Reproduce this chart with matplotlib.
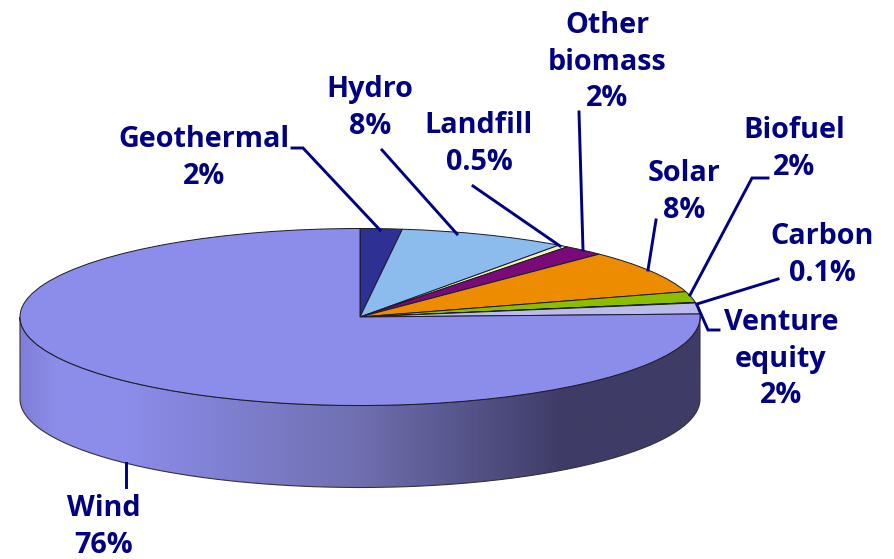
import numpy as np
import matplotlib
matplotlib.use("Agg")
import matplotlib.pyplot as plt
from matplotlib.colors import LinearSegmentedColormap
from matplotlib.patches import PathPatch
from matplotlib.path import Path

labels = ["Geothermal\n2%", "Hydro\n8%", "Landfill\n0.5%", "Other\nbiomass\n2%", "Solar\n8%",
          "Biofuel\n2%", "Carbon\n0.1%", "Venture\nequity\n2%", "Wind\n76%"]
values = [2, 8, 0.5, 2, 8, 2, 0.1, 2, 76]
colors = ["#2e3192", "#8cbbee", "#f5f0b8", "#7a0a78", "#ee8c00", "#8cbe00", "#8a8a9a", "#bcbcec", "#8c8cea"]

# label centres in pixels
label_x = [204, 370, 479, 607, 684, 794, 822, 781, 104]
label_y = [158, 108, 144, 62, 192, 149, 255, 359, 527]

# leader lines in pixels
leaders = [
    [(292, 148), (303, 148), (380, 230)],
    [(382, 150), (457, 234)],
    [(473, 186), (560, 246)],
    [(579, 112), (583, 250)],
    [(656, 220), (648, 270)],
    [(768, 178), (752, 178), (690, 295)],
    [(778, 279), (697, 304)],
    [(697, 305), (708, 330), (719, 330)],
    [(126, 487), (126, 463)],
]

W, H = 895, 559
cx, cy = 360, 317
rx, ry = 340, 88.5
depth = 82
navy = "#000080"

fig = plt.figure(figsize=(W / 100, H / 100), dpi=100)

# pixel axes for the side wall
ax = fig.add_axes([0, 0, 1, 1])
ax.set_xlim(0, W)
ax.set_ylim(H, 0)
ax.axis("off")

# side wall with left to right shading
t = np.linspace(np.pi, 0, 200)
ex = cx + rx * np.cos(t)
ey = cy + ry * np.sin(t)
wall = np.vstack([np.column_stack([ex, ey]), np.column_stack([ex[::-1], ey[::-1] + depth])])
wall_patch = PathPatch(Path(np.vstack([wall, wall[:1]])), fc="none", ec="#333333", lw=0.8, zorder=2)
ax.add_patch(wall_patch)
shade = LinearSegmentedColormap.from_list("wall", [
    (0.0, "#7f7fd8"), (0.05, "#8c8cea"), (0.16, "#8c8cea"), (0.5, "#6f6fb0"), (0.8, "#3e3c66"), (1.0, "#3e3c66")])
grad = ax.imshow(np.linspace(0, 1, 400)[None, :], cmap=shade, aspect="auto",
                 extent=[cx - rx, cx + rx, cy + ry + depth, cy], zorder=1)
grad.set_clip_path(wall_patch)
ax.set_xlim(0, W)
ax.set_ylim(H, 0)

# top of the pie, unit circle squashed into the ellipse
ax_top = fig.add_axes([0, 0, 1, 1], zorder=2)
ax_top.patch.set_alpha(0)
ax_top.pie(values, colors=colors, startangle=90, counterclock=False, radius=1,
           wedgeprops={"edgecolor": "#1a1a2a", "linewidth": 0.7})
ax_top.set_aspect("auto")
ax_top.set_xlim(-cx / rx, (W - cx) / rx)
ax_top.set_ylim((cy - H) / ry, cy / ry)
ax_top.axis("off")

# overlay for leaders and labels
ax_txt = fig.add_axes([0, 0, 1, 1], zorder=3)
ax_txt.patch.set_alpha(0)
ax_txt.set_xlim(0, W)
ax_txt.set_ylim(H, 0)
ax_txt.axis("off")

for pts in leaders:
    xs, ys = zip(*pts)
    ax_txt.plot(xs, ys, color=navy, lw=2.1, solid_joinstyle="miter")

for name, x, y in zip(labels, label_x, label_y):
    ax_txt.text(x, y, name, ha="center", va="center", color=navy, fontsize=20.7,
                fontweight="bold", family="Open Sans", linespacing=1.36, clip_on=False)

fig.savefig("out.png", dpi=100, facecolor="white")
